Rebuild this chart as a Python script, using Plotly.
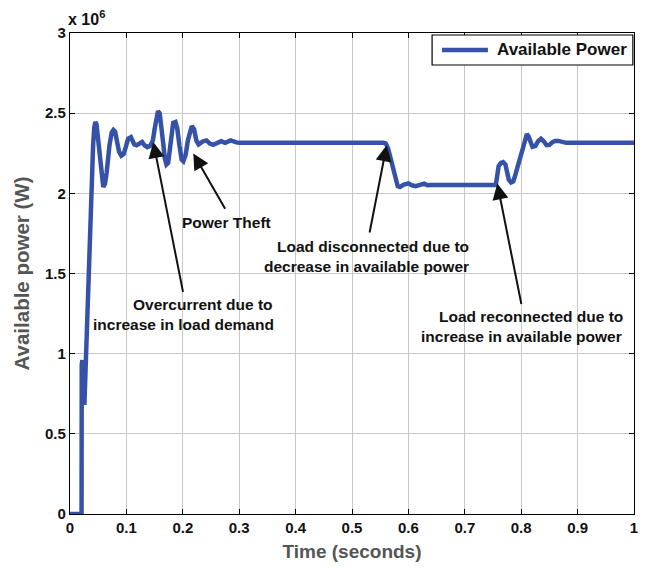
import plotly.graph_objects as go

# Time (s) and available power (x 10^6 W)
time_s = [0.000, 0.0205, 0.0208, 0.0218, 0.0230, 0.0240, 0.0255, 0.0270, 0.0280, 0.0300,
          0.0330, 0.0360, 0.0380, 0.0410, 0.0430, 0.0450, 0.0470, 0.0490, 0.0520, 0.0560,
          0.0590, 0.0620, 0.0650, 0.0700, 0.0740, 0.0770, 0.0800, 0.0830, 0.0870, 0.0910,
          0.0950, 0.0990, 0.1030, 0.1080, 0.1110, 0.1140, 0.1180, 0.1240, 0.1280, 0.1320,
          0.1370, 0.1420, 0.1470, 0.1500, 0.1530, 0.1560, 0.1590, 0.1620, 0.1650, 0.1680,
          0.1710, 0.1740, 0.1770, 0.1800, 0.1830, 0.1870, 0.1900, 0.1940, 0.1980, 0.2010,
          0.2050, 0.2090, 0.2130, 0.2160, 0.2200, 0.2240, 0.2280, 0.2320, 0.2360, 0.2420,
          0.2480, 0.2540, 0.2620, 0.2680, 0.2750, 0.2850, 0.2950, 0.3000, 0.5560, 0.5600,
          0.5640, 0.5700, 0.5770, 0.5810, 0.5850, 0.5920, 0.6000, 0.6060, 0.6130, 0.6200,
          0.6280, 0.6340, 0.6400, 0.7550, 0.7570, 0.7600, 0.7640, 0.7680, 0.7720, 0.7750,
          0.7780, 0.7820, 0.7860, 0.7900, 0.7940, 0.7980, 0.8030, 0.8070, 0.8100, 0.8130,
          0.8160, 0.8200, 0.8250, 0.8300, 0.8350, 0.8400, 0.8450, 0.8500, 0.8550, 0.8600,
          0.8660, 0.8720, 0.8800, 0.8900, 1.0000]
power_mw = [0.000, 0.000, 0.930, 0.960, 0.720, 0.920, 0.680, 0.850, 1.000, 1.200,
            1.500, 1.950, 2.050, 2.300, 2.410, 2.445, 2.430, 2.360, 2.230, 2.090,
            2.040, 2.060, 2.130, 2.300, 2.380, 2.395, 2.385, 2.330, 2.260, 2.235,
            2.245, 2.290, 2.340, 2.350, 2.330, 2.305, 2.300, 2.315, 2.320, 2.300,
            2.288, 2.295, 2.330, 2.400, 2.480, 2.512, 2.500, 2.430, 2.320, 2.220,
            2.180, 2.190, 2.290, 2.400, 2.440, 2.445, 2.410, 2.300, 2.210, 2.200,
            2.240, 2.330, 2.400, 2.420, 2.400, 2.330, 2.305, 2.315, 2.325, 2.330,
            2.310, 2.302, 2.318, 2.325, 2.315, 2.330, 2.318, 2.315, 2.315, 2.310,
            2.280, 2.200, 2.100, 2.045, 2.040, 2.055, 2.062, 2.050, 2.045, 2.055,
            2.060, 2.050, 2.052, 2.052, 2.110, 2.170, 2.190, 2.195, 2.180, 2.130,
            2.085, 2.068, 2.075, 2.120, 2.180, 2.220, 2.280, 2.350, 2.370, 2.355,
            2.320, 2.290, 2.295, 2.325, 2.340, 2.325, 2.300, 2.302, 2.318, 2.327,
            2.327, 2.322, 2.315, 2.315, 2.315]

x_ticks = [0, 0.1, 0.2, 0.3, 0.4, 0.5, 0.6, 0.7, 0.8, 0.9, 1]
x_tick_labels = ["0", "0.1", "0.2", "0.3", "0.4", "0.5", "0.6", "0.7", "0.8", "0.9", "1"]
y_ticks = [0, 0.5, 1, 1.5, 2, 2.5, 3]
y_tick_labels = ["0", "0.5", "1", "1.5", "2", "2.5", "3"]

# Annotation arrows: head (x, y) and tail (x, y)
arrow_head_x = [0.2186, 0.1477, 0.5615, 0.7576]
arrow_head_y = [2.249, 2.320, 2.300, 2.062]
arrow_tail_x = [0.2766, 0.2009, 0.5307, 0.8008]
arrow_tail_y = [1.895, 1.376, 1.746, 1.300]

# Annotation text lines
note_text = ["Power Theft", "Overcurrent due to", "increase in load demand",
             "Load disconnected due to", "decrease in available power",
             "Load reconnected due to", "increase in available power"]
note_x = [0.278, 0.236, 0.201, 0.538, 0.526, 0.818, 0.800]
note_y = [1.816, 1.309, 1.185, 1.671, 1.543, 1.230, 1.105]

legend_label = "Available Power"

FONT = "Liberation Sans, Arial, sans-serif"
LINE_COLOR = "#3652A8"

fig = go.Figure()
fig.add_trace(go.Scatter(
    x=time_s, y=power_mw, mode="lines", name=legend_label, showlegend=False,
    line=dict(color=LINE_COLOR, width=4.5),
))

annotations = []
for hx, hy, tx, ty in zip(arrow_head_x, arrow_head_y, arrow_tail_x, arrow_tail_y):
    annotations.append(dict(
        x=hx, y=hy, ax=tx, ay=ty, xref="x", yref="y", axref="x", ayref="y",
        text="", showarrow=True, arrowhead=2, arrowsize=1.6, arrowwidth=2,
        arrowcolor="#111111", standoff=0,
    ))
for t, x, y in zip(note_text, note_x, note_y):
    annotations.append(dict(
        x=x, y=y, xref="x", yref="y", text=t, showarrow=False,
        xanchor="center", yanchor="middle",
        font=dict(family=FONT, size=15.5, color="#111111", weight="bold"),
    ))
annotations.append(dict(
    x=0, y=1, xref="paper", yref="paper", xanchor="left", yanchor="bottom",
    xshift=-4, yshift=3,
    text="x 10<sup>6</sup>", showarrow=False,
    font=dict(family=FONT, size=16, color="#111111", weight="bold"),
))
# Legend box (drawn in paper coordinates to match the reference sizing)
annotations.append(dict(
    x=0.7535, y=0.9647, xref="paper", yref="paper", xanchor="left", yanchor="middle",
    text=legend_label, showarrow=False,
    font=dict(family=FONT, size=17, color="#111111", weight="bold"),
))
shapes = [
    dict(type="rect", xref="paper", yref="paper", x0=0.642, x1=0.998, y0=0.9335, y1=0.9958,
         line=dict(color="black", width=1.2), fillcolor="white", layer="above"),
    dict(type="line", xref="paper", yref="paper", x0=0.6596, x1=0.741, y0=0.9647, y1=0.9647,
         line=dict(color=LINE_COLOR, width=4.5), layer="above"),
]

axis_common = dict(
    showline=True, linecolor="black", linewidth=1.2, mirror="ticks",
    ticks="inside", ticklen=5, tickcolor="black", automargin=False,
    showgrid=True, gridcolor="#c8c8c8", gridwidth=1, zeroline=False,
    tickfont=dict(family=FONT, size=15, color="#111111", weight="bold"),
)

fig.update_layout(
    width=645, height=568,
    margin=dict(l=70, r=11, t=33, b=54),
    plot_bgcolor="white", paper_bgcolor="white",
    xaxis=dict(range=[0, 1], tickvals=x_ticks, ticktext=x_tick_labels,
               title=dict(text="Time (seconds)", standoff=9,
                          font=dict(family=FONT, size=19, color="#555555", weight="bold")),
               **axis_common),
    yaxis=dict(range=[0, 3], tickvals=y_ticks, ticktext=y_tick_labels,
               title=dict(text="Available power (W)", standoff=9,
                          font=dict(family=FONT, size=20.5, color="#555555", weight="bold")),
               **axis_common),
    showlegend=False,
    annotations=annotations,
    shapes=shapes,
)

fig.write_html(
    "out.html",
    config={"displayModeBar": False},
    post_script="document.body.style.margin='0';document.body.style.padding='0';"
                "document.body.style.overflow='hidden';",
)
